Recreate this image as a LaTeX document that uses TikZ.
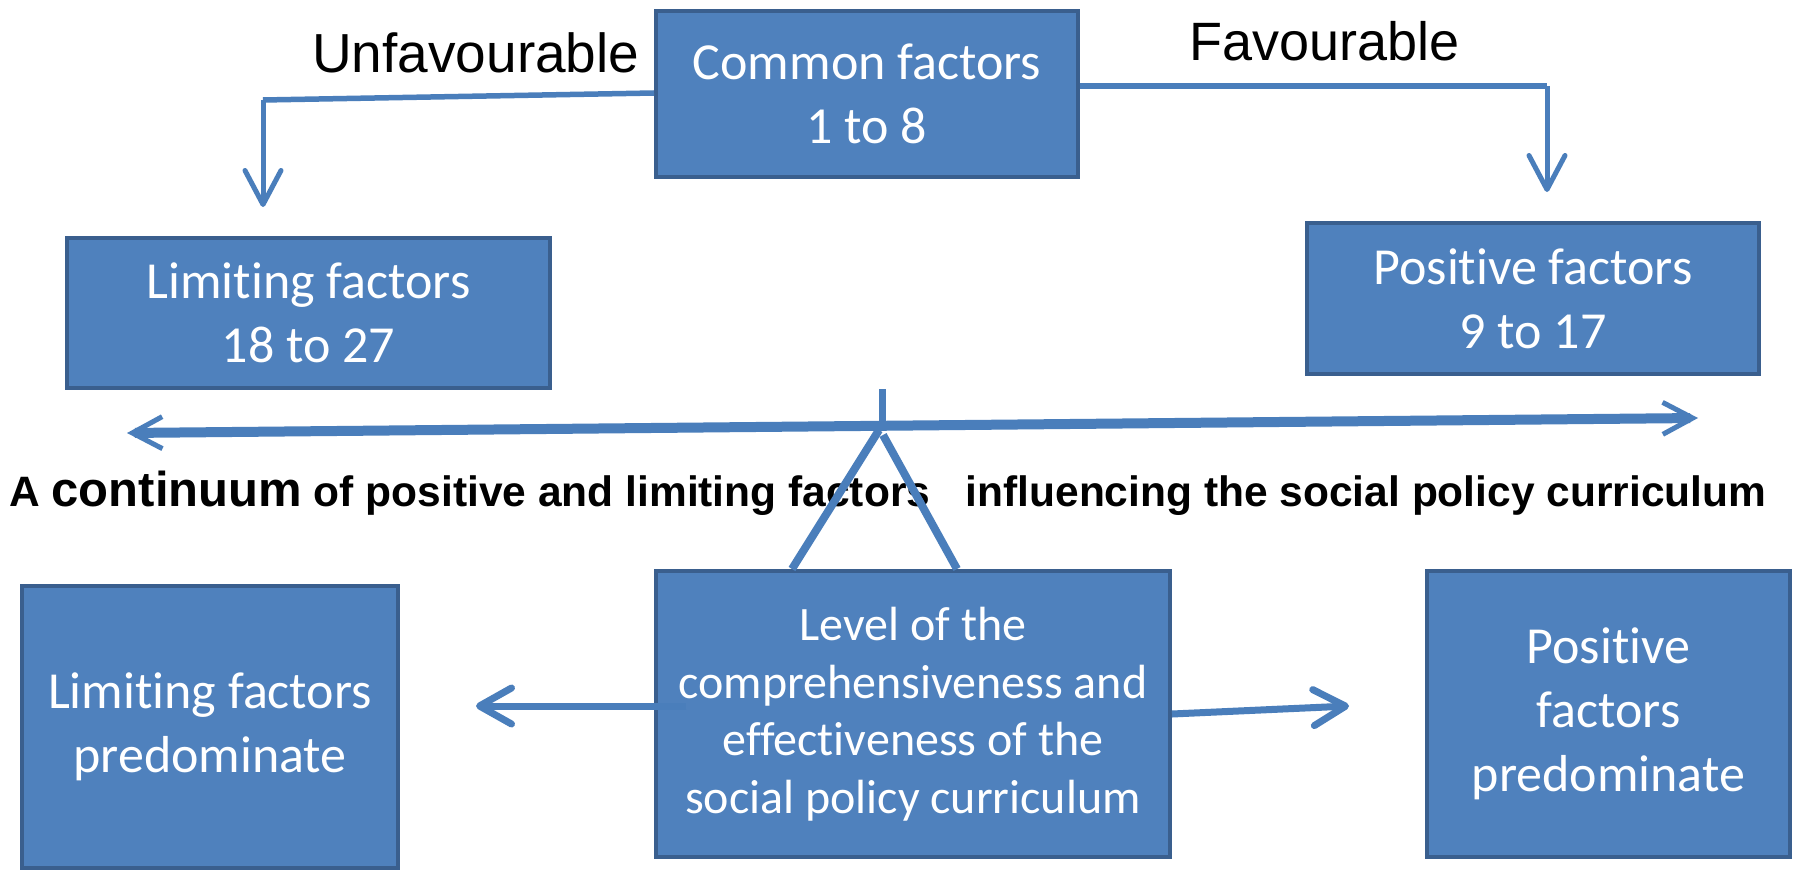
\documentclass[tikz,border=0pt]{standalone}
\usepackage{fontspec}
\setmainfont{Carlito}[RawFeature={-liga;-clig;-dlig}]
\newfontfamily\arialfont{Liberation Sans}
\usetikzlibrary{arrows.meta}
\definecolor{boxfill}{HTML}{4F81BD}
\definecolor{boxborder}{HTML}{3A5F8E}
\definecolor{linec}{HTML}{4A7EBB}
\tikzset{
  box/.style={draw=boxborder, fill=boxfill, line width=4pt, text=white, align=center,
    inner sep=0pt, font=\fontsize{52}{64}\selectfont},
  conn/.style={draw=linec, line width=5.5pt},
  barb/.style={-{Straight Barb[length=34pt,width=36pt,round]}},
  lbl/.style={inner sep=0pt, anchor=base west, font=\arialfont\fontsize{55}{60}\selectfont}
}
\begin{document}
\begin{tikzpicture}[x=1pt,y=-1pt]
\useasboundingbox (0,0) rectangle (1796,872);
\fill[white] (0,0) rectangle (1796,872);
% boxes
\node[box, minimum width=422pt, minimum height=166pt] (common) at (867,94) {Common factors\\1 to 8};
\node[box, minimum width=483pt, minimum height=150pt] (limiting) at (308.5,313) {Limiting factors\\18 to 27};
\node[box, minimum width=452pt, minimum height=151pt] (positive) at (1533,298.5) {Positive factors\\9 to 17};
\node[box, minimum width=376pt, minimum height=282pt] (limpred) at (210,727) {Limiting factors\\predominate};
\node[box, minimum width=514pt, minimum height=286pt, font=\fontsize{48}{57.5}\selectfont] (level) at (913,714) {Level of the\\comprehensiveness and\\effectiveness of the\\social policy curriculum};
\node[box, minimum width=363pt, minimum height=286pt] (pospred) at (1608.5,714) {Positive\\factors\\predominate};
% labels
\node[lbl] (unfav) at (312,73) {Unfavourable};
\node[lbl, font=\arialfont\fontsize{54}{60}\selectfont] (fav) at (1189,61) {Favourable};
\node[inner sep=0pt, anchor=base west, font=\arialfont\bfseries\fontsize{42.5}{50}\selectfont] (cont) at (9,506)
  {A {\fontsize{49}{50}\selectfont continuum} of positive and limiting factors\ \ \ influencing the social policy curriculum};
% coordinates
\coordinate (ubend) at (263,100);
\coordinate (utip) at (263,207);
\coordinate (fbend) at (1547,86);
\coordinate (ftip) at (1547,192);
\coordinate (ltip) at (127,433);
\coordinate (rtip) at (1698,418);
\coordinate (stemtop) at (882,389);
\coordinate (stembot) at (882,428);
\coordinate (apexl) at (879,430);
\coordinate (apexr) at (883,435);
\coordinate (footl) at (792,569);
\coordinate (footr) at (957,569);
\coordinate (lstart) at (686,706);
\coordinate (larr) at (476,706);
\coordinate (rstart) at (1172,714);
\coordinate (rarr) at (1349,706);
% connectors
\draw[conn] (common.west |- 0,93) -- (ubend);
\draw[conn, line width=5pt, barb] (ubend) -- (utip);
\draw[conn] (common.east |- 0,86) -- (fbend);
\draw[conn, line width=5pt, barb] (fbend) -- (ftip);
\draw[conn, line width=10pt, {Straight Barb[length=30pt,width=32pt,line width=5pt]}-{Straight Barb[length=30pt,width=32pt,line width=5pt]}] (ltip) -- (rtip);
\draw[conn, line width=7pt] (stemtop) -- (stembot);
\draw[conn, line width=8pt] (apexl) -- (footl);
\draw[conn, line width=8pt] (apexr) -- (footr);
\draw[conn, line width=7pt, -{Straight Barb[length=32pt,width=36pt,round]}] (lstart) -- (larr);
\draw[conn, line width=7pt, -{Straight Barb[length=32pt,width=36pt,round]}] (rstart) -- (rarr);
\end{tikzpicture}
\end{document}
